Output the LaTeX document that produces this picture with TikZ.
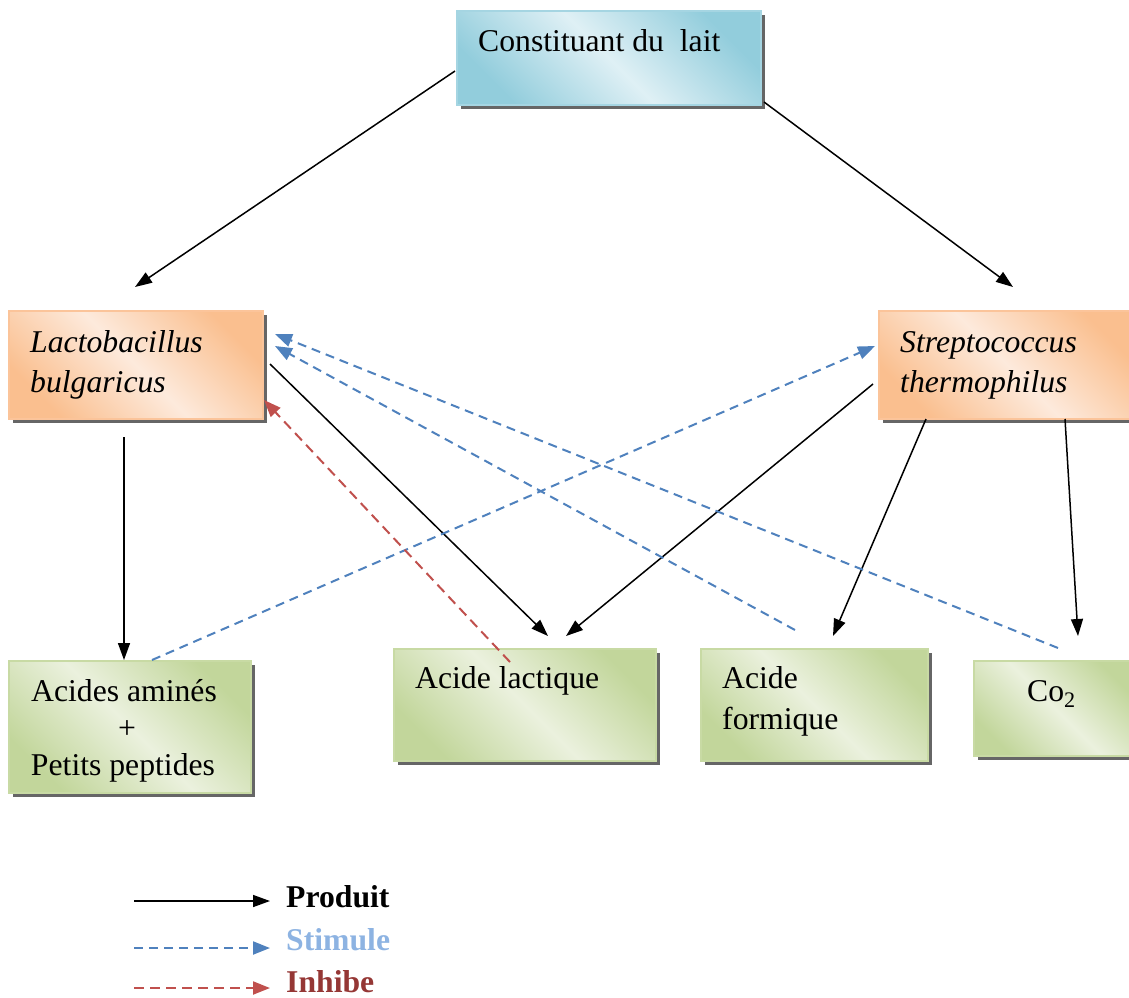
\documentclass[tikz,border=0pt]{standalone}
\usepackage{fontspec}
\setmainfont{Liberation Serif}
\usetikzlibrary{arrows.meta,calc,shadows}
\definecolor{blueD}{HTML}{92CDDC}
\definecolor{blueL}{HTML}{DFF0F5}
\definecolor{blueB}{HTML}{A5D5E2}
\definecolor{orD}{HTML}{FABF8F}
\definecolor{orL}{HTML}{FDEADC}
\definecolor{orB}{HTML}{FBC49A}
\definecolor{grD}{HTML}{C2D69B}
\definecolor{grL}{HTML}{EBF1DE}
\definecolor{grB}{HTML}{C8DAA4}
\definecolor{stimC}{HTML}{4F81BD}
\definecolor{inhC}{HTML}{C0504D}
\definecolor{stimT}{HTML}{8DB3E2}
\definecolor{inhT}{HTML}{953735}
\begin{document}
\begin{tikzpicture}[x=1pt,y=-1pt,
  box/.style={rectangle, anchor=north west, inner sep=0pt, line width=2pt,
    drop shadow={shadow xshift=4pt, shadow yshift=-4pt, fill=black!60, opacity=1}},
  bluebox/.style={box, draw=blueB, top color=blueD, bottom color=blueD, middle color=blueL, shading angle=-45},
  orbox/.style={box, draw=orB, top color=orD, bottom color=orD, middle color=orL, shading angle=-45},
  grbox/.style={box, draw=grB, top color=grD, bottom color=grD, middle color=grL, shading angle=-45},
  txt/.style={anchor=base west, inner sep=0pt, font=\fontsize{31.7pt}{40pt}\selectfont},
  ctxt/.style={anchor=base, inner sep=0pt, font=\fontsize{31.7pt}{40pt}\selectfont},
  prod/.style={black, line width=1.5pt, -{Triangle[length=17pt,width=12pt]}},
  stim/.style={stimC, line width=2pt, dash pattern=on 9pt off 6pt, -{Triangle[length=17pt,width=13pt]}},
  inh/.style={inhC, line width=2pt, dash pattern=on 10pt off 6pt, -{Triangle[length=17pt,width=13pt]}}
]
\useasboundingbox (0,0) rectangle (1129,997);

% boxes
\node[bluebox, minimum width=304pt, minimum height=94pt] (top) at (456,10) {};
\node[orbox, minimum width=254pt, minimum height=108pt] (lb) at (8,310) {};
\node[orbox, minimum width=257pt, minimum height=108pt] (st) at (878,310) {};
\node[grbox, minimum width=242pt, minimum height=132pt] (aa) at (8,660) {};
\node[grbox, minimum width=262pt, minimum height=112pt] (al) at (393,648) {};
\node[grbox, minimum width=227pt, minimum height=112pt] (af) at (700,648) {};
\node[grbox, minimum width=162pt, minimum height=95pt] (co) at (973,660) {};

% texts
\node[txt] (ttop) at (478,51) {Constituant du\ \ lait};
\node[txt] (tlb1) at (30,352) {\itshape Lactobacillus};
\node[txt] (tlb2) at (30,392) {\itshape bulgaricus};
\node[txt] (tst1) at (900,352) {\itshape Streptococcus};
\node[txt] (tst2) at (900,392) {\itshape thermophilus};
\node[ctxt] (taa1) at (124,701) {Acides aminés};
\node[ctxt] (taa2) at (127,738) {+};
\node[ctxt] (taa3) at (123,775) {Petits peptides};
\node[txt] (tal) at (415,688) {Acide lactique};
\node[txt] (taf1) at (722,688) {Acide};
\node[txt] (taf2) at (722,729) {formique};
\node[txt] (tco) at (1027,701) {Co\textsubscript{2}};

% produit
\draw[prod] ($(top.west)+(-1,13)$) -- ($(lb.north west)+(127,-23)$);
\draw[prod] ($(top.south east)+(2,-4)$) -- ($(st.north west)+(135,-23)$);
\draw[prod] ($(lb.south west)+(116,17)$) -- ($(aa.north west)+(116,0)$);
\draw[prod] ($(lb.east)+(6,-1)$) -- ($(al.north west)+(155,-12)$);
\draw[prod] ($(st.west)+(-5,19)$) -- ($(al.north west)+(173,-12)$);
\draw[prod] ($(st.south west)+(48,-1)$) -- ($(af.north west)+(133,-12)$);
\draw[prod] ($(st.south west)+(187,-1)$) -- ($(co.north west)+(105,-24)$);

% stimule
\draw[stim] ($(aa.north west)+(144,0)$) -- ($(st.west)+(-3,-19)$);
\draw[stim] ($(af.north west)+(95,-18)$) -- ($(lb.east)+(11,-19)$);
\draw[stim] ($(co.north west)+(85,-12)$) -- ($(lb.east)+(11,-31)$);

% inhibe
\draw[inh] ($(al.north west)+(117,14)$) -- ($(lb.south east)+(0,-20)$);

% legend
\coordinate (l1a) at (134,901);
\coordinate (l1b) at (270,901);
\coordinate (l2a) at (134,948);
\coordinate (l2b) at (270,948);
\coordinate (l3a) at (134,988);
\coordinate (l3b) at (270,988);
\draw[prod] (l1a) -- (l1b);
\draw[stim] (l2a) -- (l2b);
\draw[inh] (l3a) -- (l3b);
\node[txt] (lp) at (286,907) {\bfseries Produit};
\node[txt, text=stimT] (ls) at (286,950) {\bfseries Stimule};
\node[txt, text=inhT] (li) at (286,992) {\bfseries Inhibe};
\end{tikzpicture}
\end{document}
